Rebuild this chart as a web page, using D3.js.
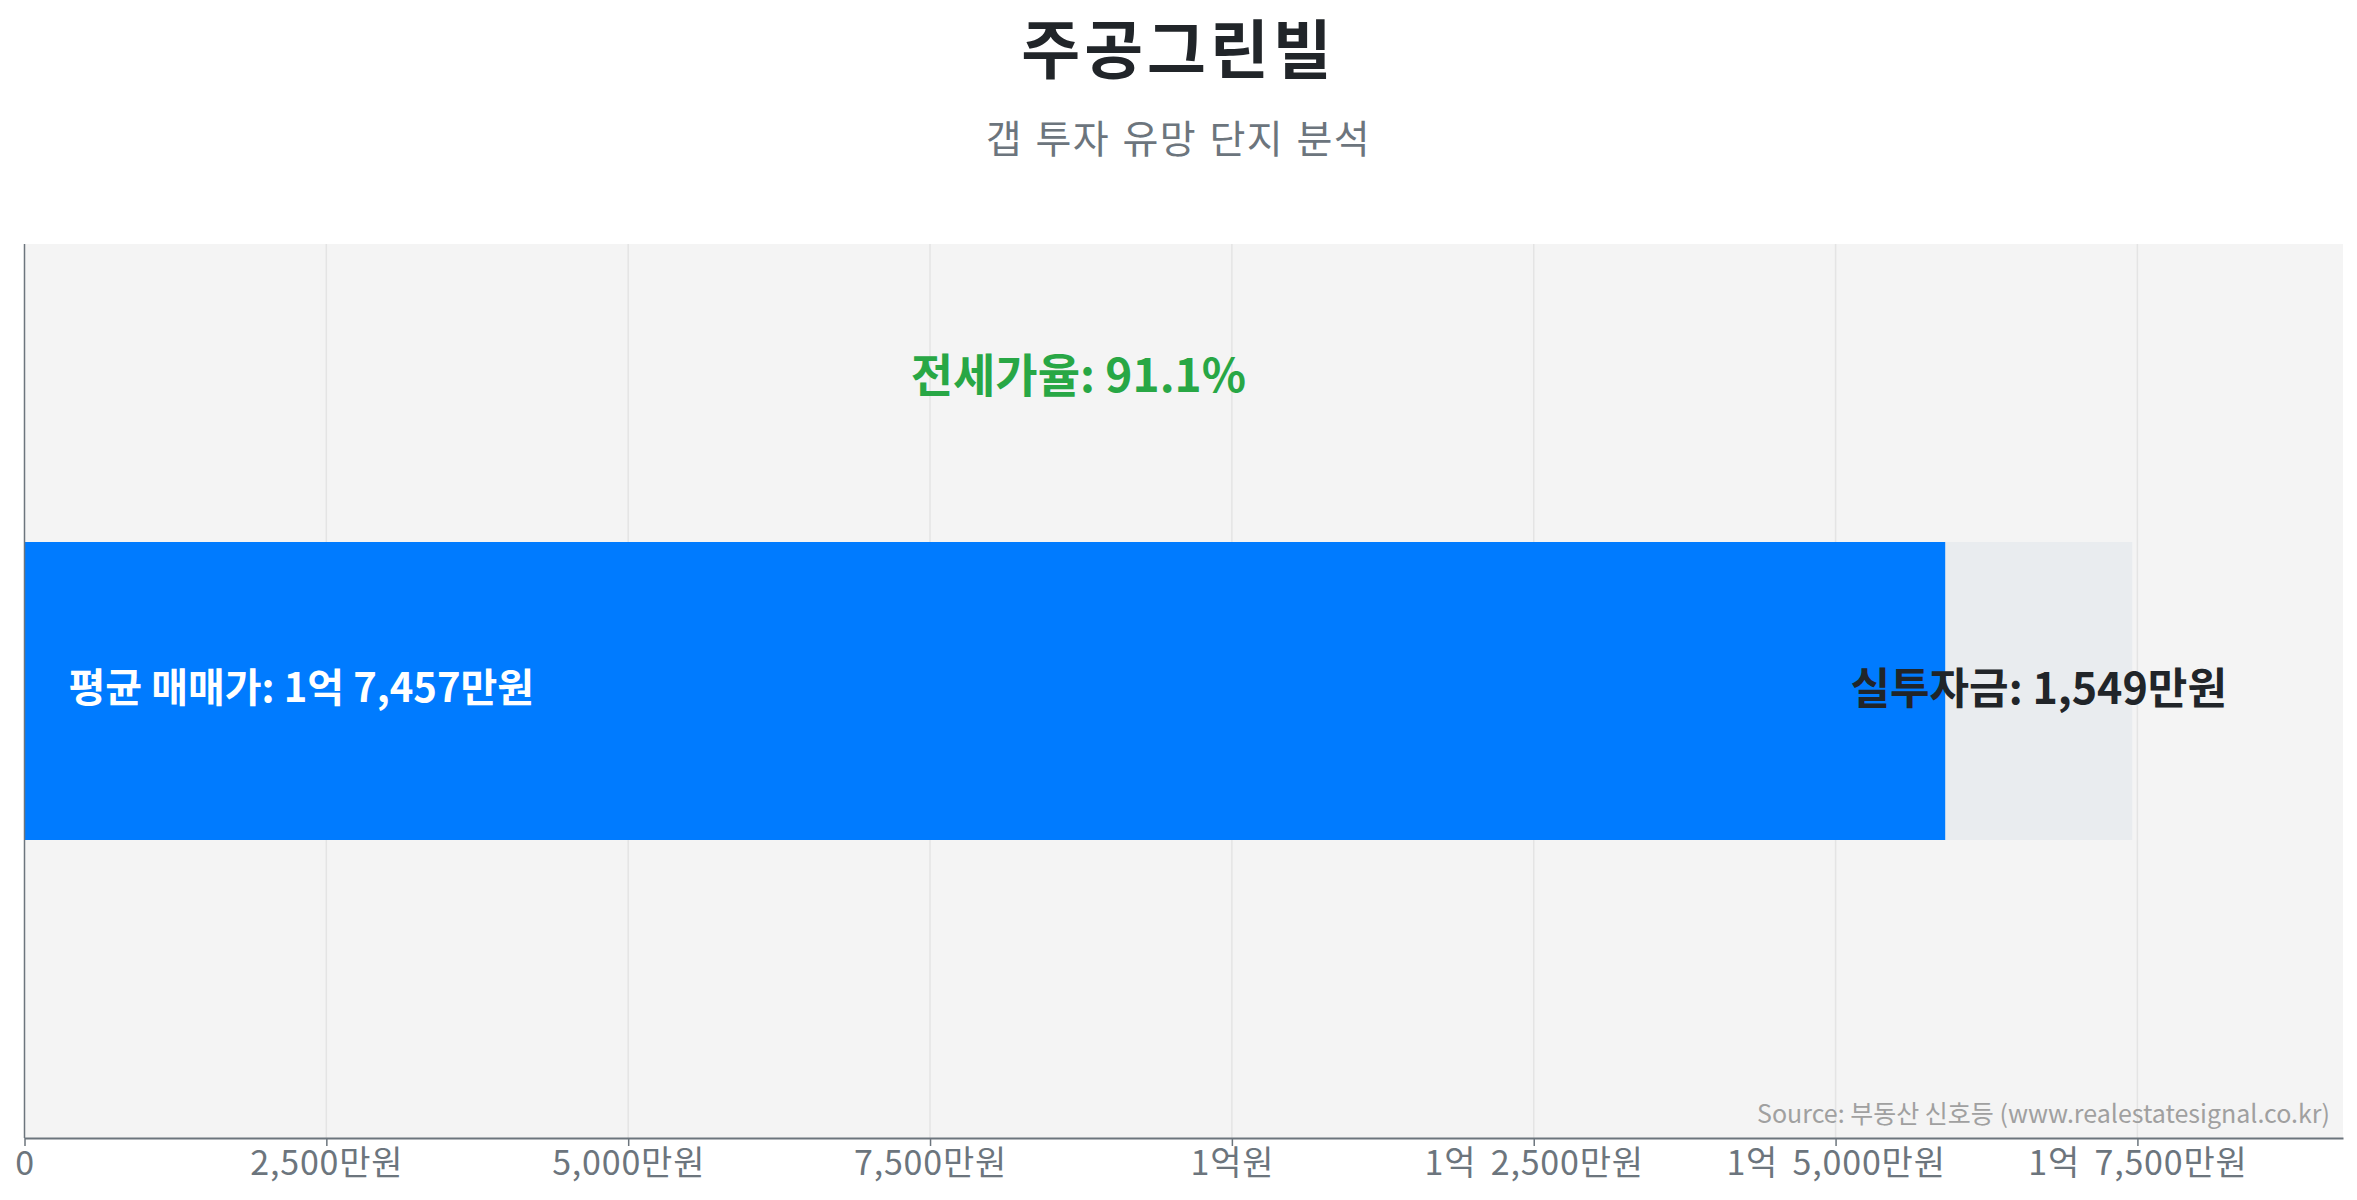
<!DOCTYPE html>
<html><head><meta charset="utf-8">
<script src="https://cdn.jsdelivr.net/npm/d3@7"></script>
<style>
html,body{margin:0;padding:0;background:#fff;}
svg{display:block;font-family:"Noto Sans CJK KR","Noto Sans",sans-serif;}
</style></head>
<body><svg id="c" width="2357" height="1200"></svg>
<script>
// ---- data ----
const titleText = "주공그린빌";
const subtitleText = "갭 투자 유망 단지 분석";
const categories = ["주공그린빌"];
const salePrice = [17457];      // 평균 매매가 (만원)
const jeonsePrice = [15908];    // 전세가 (만원)
const investAmount = [1549];    // 실투자금 (만원)
const jeonseRatio = [91.1];     // 전세가율 (%)
const tickValues = [0, 2500, 5000, 7500, 10000, 12500, 15000, 17500];
const tickLabels = ["0", "2,500만원", "5,000만원", "7,500만원", "1억원", "1억 2,500만원", "1억 5,000만원", "1억 7,500만원"];
const sourceText = "Source: 부동산 신호등 (www.realestatesignal.co.kr)";

function fmtMan(v){
  const eok = Math.floor(v/10000), man = v % 10000;
  const manStr = d3.format(",")(man);
  if (eok > 0) return man > 0 ? eok + "억 " + manStr + "만원" : eok + "억원";
  return manStr + "만원";
}

const svg = d3.select("#c");
const W = 2357, H = 1200;
const m = {left: 24.5, right: 2343, top: 244, bottom: 1138};

const x = d3.scaleLinear().domain([0, salePrice[0]*1.1]).range([m.left, m.right]);
const y = d3.scaleBand().domain(["top", categories[0], "bottom"]).range([m.top, m.bottom]).padding(0);

// title
svg.append("text").attr("x", W/2).attr("y", 45).attr("text-anchor","middle").attr("dominant-baseline","central")
  .attr("font-size", 64).attr("font-weight", 700).attr("letter-spacing", 4).attr("fill", "#212529").text(titleText);
svg.append("text").attr("x", W/2).attr("y", 136).attr("text-anchor","middle").attr("dominant-baseline","central")
  .attr("font-size", 39).attr("letter-spacing", 1.5).attr("word-spacing", 2).attr("fill", "#6c757d").text(subtitleText);

// plot bg
svg.append("rect").attr("x", m.left).attr("y", m.top).attr("width", m.right-m.left).attr("height", m.bottom-m.top).attr("fill", "#f4f4f4");

// grid
svg.append("g").selectAll("line").data(tickValues.slice(1)).join("line")
  .attr("x1", d=>x(d)).attr("x2", d=>x(d)).attr("y1", m.top).attr("y2", m.bottom)
  .attr("stroke", "#e4e4e4").attr("stroke-width", 1.5);

// bars
const cat = categories[0];
svg.append("rect").attr("x", x(0)).attr("y", y(cat)).attr("width", x(salePrice[0])-x(0)).attr("height", y.bandwidth()).attr("fill", "#e9ecef");
svg.append("rect").attr("x", x(0)).attr("y", y(cat)).attr("width", x(jeonsePrice[0])-x(0)).attr("height", y.bandwidth()).attr("fill", "#007bff");

const cy = y(cat) + y.bandwidth()/2;
svg.append("text").attr("x", x(0)+44).attr("y", cy-6).attr("dominant-baseline","central")
  .attr("font-size", 40).attr("font-weight", 700).attr("fill", "#fff").text("평균 매매가: " + fmtMan(salePrice[0]));
svg.append("text").attr("x", (x(jeonsePrice[0])+x(salePrice[0]))/2).attr("y", cy-6).attr("text-anchor","middle").attr("dominant-baseline","central")
  .attr("font-size", 43).attr("font-weight", 700).attr("fill", "#212529").text("실투자금: " + fmtMan(investAmount[0]));
svg.append("text").attr("x", x(salePrice[0]/2)).attr("y", 372).attr("text-anchor","middle").attr("dominant-baseline","central")
  .attr("font-size", 46).attr("font-weight", 700).attr("fill", "#28a745").text("전세가율: " + jeonseRatio[0].toFixed(1) + "%");

// source
svg.append("text").attr("x", 2330).attr("y", 1123).attr("text-anchor","end")
  .attr("font-size", 25).attr("fill", "#a0a0a0").text(sourceText);

// axes
const xAxis = d3.axisBottom(x).tickValues(tickValues).tickFormat((d,i)=>tickLabels[i]).tickSize(8).tickSizeOuter(0);
const gx = svg.append("g").attr("transform", `translate(0,${m.bottom})`).call(xAxis);
gx.select(".domain").attr("stroke", "#6c757d").attr("stroke-width", 2);
gx.selectAll(".tick line").attr("stroke", "#6c757d").attr("stroke-width", 1.5);
gx.selectAll(".tick text").attr("font-size", 34).attr("word-spacing", 6).attr("letter-spacing", 0.8).attr("fill", "#6c757d")
  .attr("font-family", '"Noto Sans CJK KR","Noto Sans",sans-serif').attr("dy", "0.75em");

svg.append("line").attr("x1", m.left).attr("x2", m.left).attr("y1", m.top).attr("y2", m.bottom).attr("stroke", "#6c757d").attr("stroke-width", 1.5);
</script></body></html>
